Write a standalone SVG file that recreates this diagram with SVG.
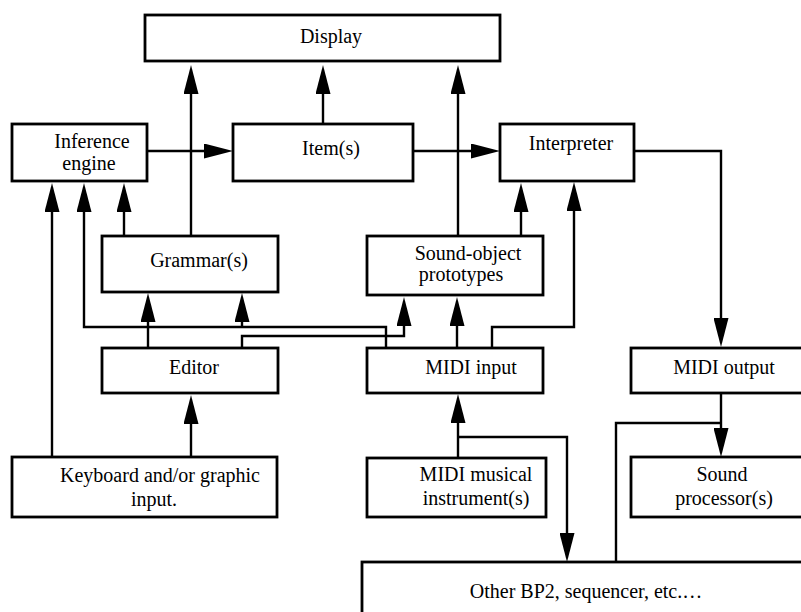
<svg xmlns="http://www.w3.org/2000/svg" width="801" height="612" viewBox="0 0 801 612">
<style>
.box{fill:#fff;stroke:#000;stroke-width:2.8}
.lbl{font-family:'Liberation Serif',Tinos,'Times New Roman','DejaVu Serif',serif;font-size:20px;fill:#000;text-anchor:middle}
.con{fill:none;stroke:#000;stroke-width:2.4}
.arr{marker-end:url(#ah)}
</style>
<defs>
<marker id="ah" viewBox="0 0 29 15" refX="0" refY="7.5" markerWidth="29" markerHeight="15" markerUnits="userSpaceOnUse" orient="auto">
<path d="M0,0 L29,7.5 L0,15 Z" fill="#000"/>
</marker>
</defs>
<rect width="801" height="612" fill="#fff"/>
<g id="connectors">
<path class="con arr" d="M147,151 H204"/>
<path class="con arr" d="M413,151 H471"/>
<path class="con arr" d="M191,236 V94"/>
<path class="con arr" d="M323,124 V94"/>
<path class="con arr" d="M458,236 V94"/>
<path class="con arr" d="M52,459 V212"/>
<path class="con arr" d="M386,348 V327 H84 V212"/>
<path class="con arr" d="M242,327 V322"/>
<path class="con arr" d="M124,236 V212"/>
<path class="con arr" d="M148,348 V322"/>
<path class="con arr" d="M242,348 V336 H404 V326"/>
<path class="con arr" d="M457,348 V326"/>
<path class="con arr" d="M492,348 V327 H574 V211"/>
<path class="con arr" d="M521,236 V212"/>
<path class="con arr" d="M634,151 H721 V318"/>
<path class="con arr" d="M721,393 V428"/>
<path class="con" d="M616,562 V423 H720"/>
<path class="con arr" d="M191,457 V424"/>
<path class="con arr" d="M458,458 V423"/>
<path class="con arr" d="M458,437 H567 V533"/>
</g>
<g font-family="Liberation Serif, serif">
<g id="display"><rect class="box" x="145" y="15" width="355" height="46"/><text class="lbl" x="331" y="43">Display</text></g>
<g id="inference"><rect class="box" x="12" y="124" width="135" height="57"/><text class="lbl" x="92" y="148">Inference</text><text class="lbl" x="89" y="170">engine</text></g>
<g id="items"><rect class="box" x="233" y="124" width="180" height="57"/><text class="lbl" x="331" y="155">Item(s)</text></g>
<g id="interpreter"><rect class="box" x="500" y="124" width="134" height="57"/><text class="lbl" x="571" y="150">Interpreter</text></g>
<g id="grammars"><rect class="box" x="102" y="236" width="176" height="56"/><text class="lbl" x="199" y="267">Grammar(s)</text></g>
<g id="soundobject"><rect class="box" x="367" y="236" width="176" height="59"/><text class="lbl" x="468" y="260">Sound-object</text><text class="lbl" x="461" y="281">prototypes</text></g>
<g id="editor"><rect class="box" x="102" y="348" width="176" height="45"/><text class="lbl" x="194" y="374">Editor</text></g>
<g id="midiinput"><rect class="box" x="367" y="348" width="176" height="45"/><text class="lbl" x="471" y="374">MIDI input</text></g>
<g id="midioutput"><rect class="box" x="631" y="348" width="180" height="45"/><text class="lbl" x="724" y="374">MIDI output</text></g>
<g id="keyboard"><rect class="box" x="12" y="457" width="265" height="60"/><text class="lbl" x="160" y="482">Keyboard and/or graphic</text><text class="lbl" x="154" y="506">input.</text></g>
<g id="midiinstrument"><rect class="box" x="367" y="458" width="179" height="59"/><text class="lbl" x="476" y="481">MIDI musical</text><text class="lbl" x="476" y="505">instrument(s)</text></g>
<g id="soundprocessor"><rect class="box" x="631" y="457" width="180" height="60"/><text class="lbl" x="722" y="481">Sound</text><text class="lbl" x="724" y="505">processor(s)</text></g>
<g id="otherbp2"><rect class="box" x="362" y="562" width="450" height="60"/><text class="lbl" x="586" y="598">Other BP2, sequencer, etc.…</text></g>
</g>
</svg>
